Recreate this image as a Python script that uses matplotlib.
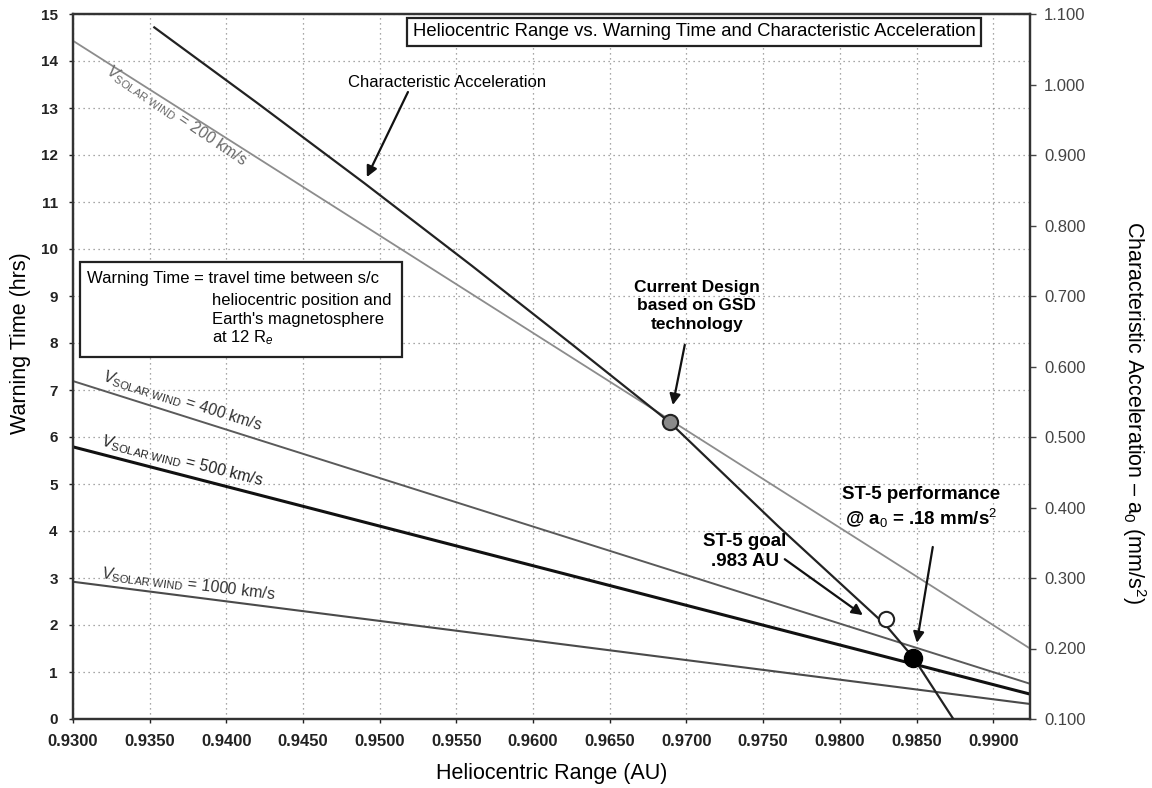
import matplotlib
matplotlib.use("Agg")
import matplotlib.pyplot as plt
from matplotlib.patches import Rectangle
from matplotlib.ticker import FormatStrFormatter

plt.rcParams["font.family"] = ["Liberation Sans", "DejaVu Sans"]
plt.rcParams["mathtext.fontset"] = "custom"
plt.rcParams["mathtext.rm"] = "Liberation Sans"
plt.rcParams["mathtext.it"] = "Liberation Sans:italic"
plt.rcParams["mathtext.bf"] = "Liberation Sans:bold"

# --- data ---
range_ends = [0.9300, 0.9924]          # AU, solar-wind lines span the whole axis
wind_200 = [14.43, 1.50]               # hrs
wind_400 = [7.19, 0.75]
wind_500 = [5.79, 0.53]
wind_1000 = [2.92, 0.32]

char_range = [0.9353, 0.9420, 0.9490, 0.9560, 0.9625, 0.9689, 0.9760, 0.9830, 0.9848, 0.9874]
char_accel = [1.081, 0.974, 0.860, 0.743, 0.632, 0.521, 0.373, 0.233, 0.187, 0.100]  # mm/s^2

design_pt = (0.9689, 0.521)
goal_pt = (0.9830, 0.242)
perf_pt = (0.9848, 0.187)

x_ticks = [0.9300 + 0.005 * i for i in range(13)]
y_ticks = list(range(16))
a_ticks = [0.1 + 0.1 * i for i in range(11)]

fig = plt.figure(figsize=(11.52, 7.88), dpi=100)
ax = fig.add_axes([73 / 1152, 69 / 788, 957 / 1152, 705 / 788])
ax2 = ax.twinx()

ax.set_xlim(0.9300, 0.9924)
ax.set_ylim(0, 15)
ax2.set_ylim(0.1, 1.1)

ax.set_xticks(x_ticks)
ax.set_yticks(y_ticks)
ax2.set_yticks(a_ticks)
ax.xaxis.set_major_formatter(FormatStrFormatter("%.4f"))
ax2.yaxis.set_major_formatter(FormatStrFormatter("%.3f"))
ax.grid(True, color="#8a8a8a", linestyle=(0, (1, 3)), linewidth=0.9)

for a in (ax, ax2):
    for s in a.spines.values():
        s.set_color("#333333")
        s.set_linewidth(1.6)
ax.tick_params(axis="both", length=3, width=1, colors="#222222")
ax.tick_params(axis="x", labelsize=12, pad=8)
ax.tick_params(axis="y", labelsize=11, pad=8)
for lab in ax.get_xticklabels() + ax.get_yticklabels():
    lab.set_fontweight("bold")
ax2.tick_params(axis="y", length=4, width=1, colors="#444444", labelsize=12, pad=6)

# solar wind warning-time lines
ax.plot(range_ends, wind_200, color="#8c8c8c", lw=1.3, zorder=3)
ax.plot(range_ends, wind_400, color="#5a5a5a", lw=1.4, zorder=3)
ax.plot(range_ends, wind_500, color="#111111", lw=2.2, zorder=3)
ax.plot(range_ends, wind_1000, color="#4a4a4a", lw=1.5, zorder=3)

# characteristic acceleration curve (right axis)
ax2.plot(char_range, char_accel, color="#222222", lw=1.6, zorder=3)
ax2.plot(*design_pt, "o", ms=11, mfc="#8a8a8a", mec="#222222", mew=1.5, zorder=5)
ax2.plot(*goal_pt, "o", ms=11, mfc="white", mec="#222222", mew=1.5, zorder=5)
ax2.plot(*perf_pt, "o", ms=13, mfc="black", mec="black", zorder=5)

ax.set_ylabel("Warning Time (hrs)", fontsize=15.5, va="center")
ax.yaxis.set_label_coords(-0.0545, 0.533)
ax.set_xlabel("Heliocentric Range (AU)", fontsize=15.5, labelpad=10)
ax2.set_ylabel("Characteristic Acceleration \u2013 a$_0$ (mm/s$^2$)", fontsize=15.5, rotation=-90,
               va="center")
ax2.yaxis.set_label_coords(1.109, 0.434)

# title box
ax.text(0.97051, 14.62, "Heliocentric Range vs. Warning Time and Characteristic Acceleration",
        ha="center", va="center", fontsize=13.3, zorder=6,
        bbox=dict(boxstyle="square,pad=0.3", fc="white", ec="#222222", lw=1.6))

# warning-time definition box
ax.add_patch(Rectangle((0.93046, 7.70), 0.02099, 2.02, fc="white", ec="#222222", lw=1.6, zorder=4))
ax.text(0.93091, 9.38, "Warning Time = travel time between s/c", ha="left", va="center",
        fontsize=12, zorder=5)
ax.text(0.93906, 8.91, "heliocentric position and", ha="left", va="center", fontsize=12, zorder=5)
ax.text(0.93906, 8.51, "Earth's magnetosphere", ha="left", va="center", fontsize=12, zorder=5)
ax.text(0.93906, 8.11, "at 12 R$_e$", ha="left", va="center", fontsize=12, zorder=5)

# solar wind labels
vlab = dict(ha="center", va="center", fontsize=11.5, rotation_mode="anchor")
ax.text(0.93671, 12.83, r"$V_{\mathrm{SOLAR\ WIND}}$ = 200 km/s", rotation=-34, color="#6a6a6a", **vlab)
ax.text(0.93711, 6.77, r"$V_{\mathrm{SOLAR\ WIND}}$ = 400 km/s", rotation=-17.5, color="#333333", **vlab)
ax.text(0.93711, 5.49, r"$V_{\mathrm{SOLAR\ WIND}}$ = 500 km/s", rotation=-14, color="#222222", **vlab)
ax.text(0.93750, 2.87, r"$V_{\mathrm{SOLAR\ WIND}}$ = 1000 km/s", rotation=-7, color="#333333", **vlab)

arrow = dict(arrowstyle="-|>", color="#111111", lw=1.6, mutation_scale=16, shrinkA=0, shrinkB=0)

ax.text(0.95438, 13.55, "Characteristic Acceleration", ha="center", va="center", fontsize=12)
ax.annotate("", xy=(0.94916, 11.53), xytext=(0.95184, 13.34), arrowprops=arrow)

ax.text(0.97068, 8.79, "Current Design\nbased on GSD\ntechnology", ha="center", va="center",
        fontsize=12.5, fontweight="bold", linespacing=1.3)
ax.annotate("", xy=(0.96911, 6.68), xytext=(0.96989, 7.96), arrowprops=arrow)

ax.text(0.97381, 3.57, "ST-5 goal\n.983 AU", ha="center", va="center",
        fontsize=13.5, fontweight="bold", linespacing=1.25)
ax.annotate("", xy=(0.98150, 2.21), xytext=(0.97641, 3.40), arrowprops=arrow)

ax.text(0.98528, 4.49, "ST-5 performance\n@ a$_0$ = .18 mm/s$^2$", ha="center", va="center",
        fontsize=13.5, fontweight="bold", linespacing=1.25)
ax.annotate("", xy=(0.98502, 1.62), xytext=(0.98606, 3.66), arrowprops=arrow)

fig.savefig("out.png", dpi=100)
